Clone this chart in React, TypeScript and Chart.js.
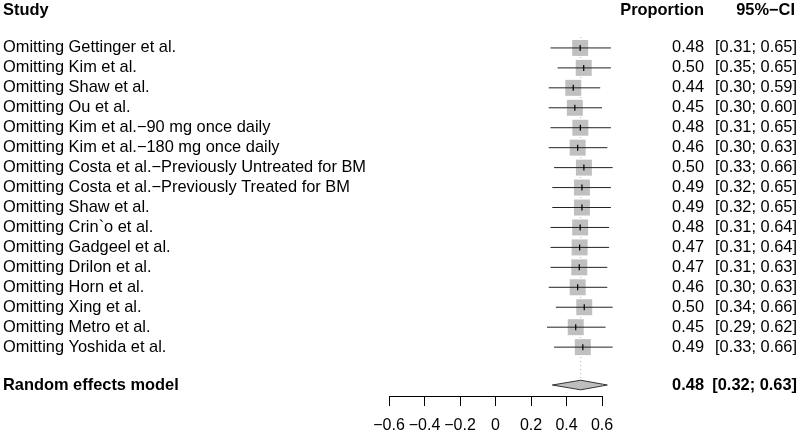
import React, { useEffect, useRef } from "react";
import { Chart, registerables } from "chart.js";

Chart.register(...registerables);

const studies = [
  "Omitting Gettinger et al.",
  "Omitting Kim et al.",
  "Omitting Shaw et al.",
  "Omitting Ou et al.",
  "Omitting Kim et al.\u221290 mg once daily",
  "Omitting Kim et al.\u2212180 mg once daily",
  "Omitting Costa et al.\u2212Previously Untreated for BM",
  "Omitting Costa et al.\u2212Previously Treated for BM",
  "Omitting Shaw et al.",
  "Omitting Crin`o et al.",
  "Omitting Gadgeel et al.",
  "Omitting Drilon et al.",
  "Omitting Horn et al.",
  "Omitting Xing et al.",
  "Omitting Metro et al.",
  "Omitting Yoshida et al.",
];
const estimates = [0.477, 0.497, 0.438, 0.447, 0.478, 0.463, 0.498, 0.487, 0.487, 0.477, 0.474, 0.472, 0.463, 0.5, 0.452, 0.492];
const lower = [0.31, 0.35, 0.3, 0.3, 0.31, 0.3, 0.33, 0.32, 0.32, 0.31, 0.31, 0.31, 0.3, 0.34, 0.29, 0.33];
const upper = [0.65, 0.65, 0.59, 0.6, 0.65, 0.63, 0.66, 0.65, 0.65, 0.64, 0.64, 0.63, 0.63, 0.66, 0.62, 0.66];
const estLabels = ["0.48", "0.50", "0.44", "0.45", "0.48", "0.46", "0.50", "0.49", "0.49", "0.48", "0.47", "0.47", "0.46", "0.50", "0.45", "0.49"];
const ciLabels = [
  "[0.31; 0.65]", "[0.35; 0.65]", "[0.30; 0.59]", "[0.30; 0.60]", "[0.31; 0.65]", "[0.30; 0.63]",
  "[0.33; 0.66]", "[0.32; 0.65]", "[0.32; 0.65]", "[0.31; 0.64]", "[0.31; 0.64]", "[0.31; 0.63]",
  "[0.30; 0.63]", "[0.34; 0.66]", "[0.29; 0.62]", "[0.33; 0.66]",
];
const reLabel = "Random effects model";
const reEstimate = 0.48;
const reLower = 0.32;
const reUpper = 0.63;
const reEstLabel = "0.48";
const reCiLabel = "[0.32; 0.63]";
const xTicks = [-0.6, -0.4, -0.2, 0, 0.2, 0.4, 0.6];

const FONT = '"Liberation Sans", Arial, Helvetica, sans-serif';
const HEADER_ROW = -0.9;
const RE_ROW = 17.9;

const textPlugin = {
  id: "forestText",
  afterDraw(chart: any) {
    const ctx = chart.ctx;
    const y = chart.scales.y;
    ctx.save();
    ctx.fillStyle = "#000";
    ctx.textBaseline = "middle";
    const hy = y.getPixelForValue(HEADER_ROW);
    ctx.font = `bold 16.4px ${FONT}`;
    ctx.textAlign = "left";
    ctx.fillText("Study", 3, hy);
    ctx.textAlign = "right";
    ctx.fillText("Proportion", 704, hy);
    ctx.fillText("95%\u2212CI", 795, hy);
    ctx.font = `16.4px ${FONT}`;
    studies.forEach((s, i) => {
      const py = y.getPixelForValue(i + 1);
      ctx.textAlign = "left";
      ctx.fillText(s, 3, py);
      ctx.textAlign = "right";
      ctx.fillText(estLabels[i], 704, py);
      ctx.fillText(ciLabels[i], 797, py);
    });
    const ry = y.getPixelForValue(RE_ROW);
    ctx.font = `bold 16.4px ${FONT}`;
    ctx.textAlign = "left";
    ctx.fillText(reLabel, 3, ry);
    ctx.textAlign = "right";
    ctx.fillText(reEstLabel, 704, ry);
    ctx.fillText(reCiLabel, 797, ry);
    ctx.restore();
  },
};

export default function App() {
  const ref = useRef<HTMLCanvasElement>(null);
  useEffect(() => {
    document.body.style.margin = "0";
    const rows = studies.map((_, i) => i + 1);
    const ciData: any[] = [];
    rows.forEach((r, i) => {
      ciData.push({ x: lower[i], y: r }, { x: upper[i], y: r }, { x: NaN, y: NaN });
    });
    const diamond = [
      { x: reLower, y: RE_ROW },
      { x: reEstimate, y: RE_ROW - 0.24 },
      { x: reUpper, y: RE_ROW },
      { x: reEstimate, y: RE_ROW + 0.24 },
      { x: reLower, y: RE_ROW },
    ];
    const chart = new Chart(ref.current!, {
      type: "scatter",
      data: {
        datasets: [
          {
            data: rows.map((r, i) => ({ x: estimates[i], y: r })),
            pointStyle: "line",
            rotation: 90,
            radius: 3,
            borderColor: "#000",
            borderWidth: 1.2,
            clip: false,
          } as any,
          {
            type: "line",
            data: ciData,
            borderColor: "#222",
            borderWidth: 1,
            pointRadius: 0,
            spanGaps: false,
            clip: false,
          } as any,
          {
            type: "line",
            data: diamond,
            borderColor: "#333",
            backgroundColor: "#bebebe",
            borderWidth: 1,
            pointRadius: 0,
            fill: "shape",
            clip: false,
          } as any,
          {
            data: rows.map((r, i) => ({ x: estimates[i], y: r })),
            pointStyle: "rect",
            radius: 11.3,
            backgroundColor: "#c0c0c0",
            borderWidth: 0,
            clip: false,
          } as any,
          {
            type: "line",
            data: [
              { x: reEstimate, y: 0.45 },
              { x: reEstimate, y: 17.55 },
            ],
            borderColor: "#b0b0b0",
            borderWidth: 1,
            borderDash: [1, 3],
            pointRadius: 0,
            clip: false,
          } as any,
        ],
      },
      options: {
        responsive: false,
        animation: false,
        events: [],
        layout: { padding: { left: 389, right: 198, top: 28, bottom: 0 } },
        plugins: { legend: { display: false }, tooltip: { enabled: false } },
        scales: {
          x: {
            type: "linear",
            min: -0.6,
            max: 0.6,
            afterFit: (s: any) => {
              s.height = 36;
            },
            afterBuildTicks: (s: any) => {
              s.ticks = xTicks.map((v) => ({ value: v }));
            },
            grid: { drawOnChartArea: false, drawTicks: true, tickLength: 10, color: "#000", lineWidth: 1 },
            border: { display: true, color: "#000", width: 1 },
            ticks: {
              color: "#000",
              padding: 10,
              maxRotation: 0,
              autoSkip: false,
              font: { family: FONT, size: 16 },
              callback: (v: any) => {
                const r = Math.round(Number(v) * 10) / 10;
                if (r === 0) return "0";
                return (r < 0 ? "\u2212" : "") + Math.abs(r).toFixed(1);
              },
            },
          },
          y: {
            type: "linear",
            display: false,
            min: 0,
            max: 18.45,
            reverse: true,
          },
        },
      },
      plugins: [textPlugin],
    } as any);
    return () => chart.destroy();
  }, []);
  return <canvas ref={ref} width={800} height={432} style={{ display: "block" }} />;
}
